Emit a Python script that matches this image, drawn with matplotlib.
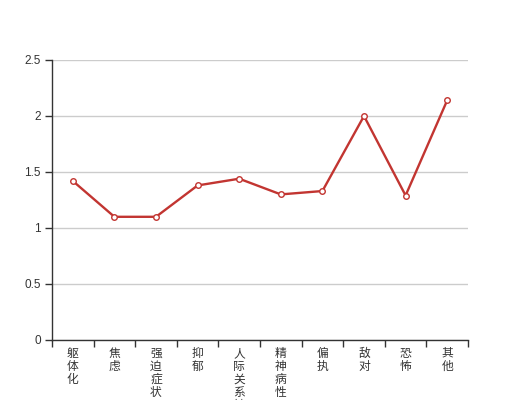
import matplotlib
matplotlib.use('Agg')
import matplotlib.pyplot as plt
import numpy as np

plt.rcParams['font.family'] = ['Noto Sans CJK SC', 'DejaVu Sans']

# Categories and values
categories = ['躯体化', '焦虑', '强迫症状', '抑郁', '人际关系敏感', '精神病性', '偏执', '敌对', '恐怖', '其他']
values = [1.42, 1.10, 1.10, 1.38, 1.44, 1.30, 1.33, 2.00, 1.29, 2.14]
y_ticks = [0, 0.5, 1, 1.5, 2, 2.5]
y_labels = ['0', '0.5', '1', '1.5', '2', '2.5']

fig = plt.figure(figsize=(5.2, 4.0), dpi=100)
ax = fig.add_axes([52 / 520, 60 / 400, 416 / 520, 280 / 400])

x = np.arange(len(categories))
ax.plot(x, values, color='#c23531', linewidth=1.7, marker='o', markersize=4,
        markerfacecolor='white', markeredgecolor='#c23531', markeredgewidth=1, zorder=3)

ax.set_xlim(-0.5, len(categories) - 0.5)
ax.set_ylim(0, 2.5)

# y axis
ax.set_yticks(y_ticks)
ax.set_yticklabels(y_labels, fontsize=8.5, color='#333333', family='Liberation Sans')
ax.tick_params(axis='y', length=5, width=1, color='#333333', pad=3)
ax.grid(axis='y', color='#cccccc', linewidth=1)
ax.set_axisbelow(True)

# x axis: ticks at category boundaries, labels vertically stacked
ax.set_xticks(np.arange(len(categories) + 1) - 0.5)
ax.set_xticklabels([])
ax.tick_params(axis='x', length=5, width=1, color='#333333')
for i, name in enumerate(categories):
    ax.text(i, -0.06, '\n'.join(name), ha='center', va='top', fontsize=8.5,
            color='#333333', linespacing=1.0, transform=ax.transData, clip_on=False)

for side in ['top', 'right']:
    ax.spines[side].set_visible(False)
for side in ['left', 'bottom']:
    ax.spines[side].set_color('#333333')
    ax.spines[side].set_linewidth(1)

fig.savefig('out.png', dpi=100)
